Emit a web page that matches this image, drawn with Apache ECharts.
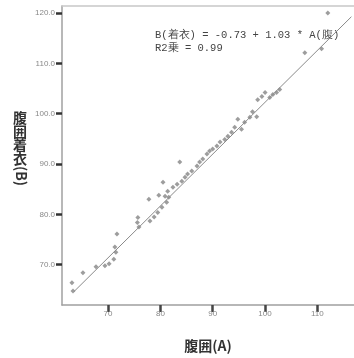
<!DOCTYPE html>
<html>
<head>
<meta charset="utf-8">
<script src="https://cdn.jsdelivr.net/npm/echarts@6/dist/echarts.min.js"></script>
<style>
  html, body { margin: 0; padding: 0; background: #fff; }
  #chart { width: 354px; height: 358px; }
</style>
</head>
<body>
<div id="chart"></div>
<script>
// 腹囲(A) vs 腹囲着衣(B)
const waistA = [63.1, 63.3, 65.2, 67.7, 69.4, 70.2, 71.1, 71.3, 71.5, 71.7,
  75.7, 75.9, 75.6, 77.8, 78.0, 78.8, 79.5, 79.7, 80.3, 81.2, 81.6,
  80.5, 80.9, 81.4, 82.4, 83.2, 83.7, 84.1, 84.7, 85.2, 86.0, 87.0, 87.5,
  88.1, 88.9, 89.4, 90.0, 90.8, 91.4, 92.3, 92.9, 93.6, 94.2, 94.8, 95.5,
  96.1, 97.1, 97.6, 98.4, 98.6, 99.4, 100.0, 100.9, 101.5, 102.2, 102.8,
  107.6, 110.8, 112.0];
const clothedB = [66.4, 64.8, 68.4, 69.6, 69.8, 70.2, 71.1, 73.5, 72.5, 76.1,
  79.4, 77.5, 78.4, 83.0, 78.7, 79.5, 80.4, 83.8, 81.4, 82.4, 83.4,
  86.4, 83.6, 84.6, 85.4, 86.0, 90.4, 86.6, 87.4, 88.0, 88.6, 89.6, 90.4,
  91.0, 92.0, 92.6, 93.0, 93.6, 94.4, 94.9, 95.5, 96.3, 97.3, 98.9, 96.9,
  98.3, 99.3, 100.4, 99.4, 102.8, 103.4, 104.2, 103.2, 103.8, 104.2, 104.8,
  112.1, 112.9, 120.0];
const xTicks = [70, 80, 90, 100, 110];
const yTicks = [70, 80, 90, 100, 110, 120];
const intercept = -0.73;
const slope = 1.03;
const fitRange = [63.5, 116.5];

const points = waistA.map((a, i) => [a, clothedB[i]]);
const fitLine = fitRange.map(a => [a, intercept + slope * a]);

const chart = echarts.init(document.getElementById('chart'));
const axisGray = '#a0a0a0';
chart.setOption({
  backgroundColor: '#ffffff',
  animation: false,
  grid: { left: 62, top: 6, right: 0, bottom: 52 },
  xAxis: [{
    type: 'value',
    min: 61.2,
    max: 117,
    splitNumber: 5,
    name: '腹囲(A)',
    nameLocation: 'middle',
    nameGap: 34,
    nameTextStyle: { fontSize: 14, fontWeight: 'bold', color: '#333', fontFamily: 'Noto Sans CJK JP' },
    axisLine: { lineStyle: { color: axisGray, width: 1.5 } },
    axisTick: { show: true, length: 7, lineStyle: { color: '#444', width: 2.5 } },
    axisLabel: { fontSize: 8, color: '#888', margin: 5, showMinLabel: false, showMaxLabel: false,
      formatter: v => (xTicks.includes(v) ? String(v) : '') },
    splitLine: { show: false }
  }, {
    type: 'value',
    position: 'top',
    min: 61.2,
    max: 117,
    axisLine: { show: true, lineStyle: { color: '#c8c8c8', width: 1.5 } },
    axisTick: { show: false },
    axisLabel: { show: false },
    splitLine: { show: false }
  }],
  yAxis: {
    type: 'value',
    min: 62,
    max: 121.4,
    splitNumber: 6,
    axisLine: { show: true, lineStyle: { color: axisGray, width: 1.5 } },
    axisTick: { show: true, length: 6, lineStyle: { color: '#333', width: 2.5 } },
    axisLabel: { fontSize: 8, color: '#888', margin: 7, showMinLabel: false, showMaxLabel: false,
      formatter: v => (yTicks.includes(v) ? v.toFixed(1) : '') },
    splitLine: { show: false }
  },
  graphic: [
    { type: 'text', left: 13, top: 111,
      style: { text: '腹\n囲\n着\n衣', font: 'bold 14px "Noto Sans CJK JP"', fill: '#333', lineHeight: 13.5 } },
    { type: 'text', x: 28, y: 166, rotation: -Math.PI / 2,
      style: { text: '(B)', font: 'bold 14px "Noto Sans CJK JP"', fill: '#333' } },
    { type: 'text', left: 155, top: 29,
      style: { text: 'B(着衣) = -0.73 + 1.03 * A(腹)\nR2乗 = 0.99', font: '10.5px "Liberation Mono"', fill: '#444', lineHeight: 12.5 } }
  ],
  series: [{
    type: 'scatter',
    xAxisIndex: 0,
    data: points,
    symbol: 'diamond',
    symbolSize: 5,
    itemStyle: { color: '#858585' }
  }, {
    type: 'line',
    xAxisIndex: 0,
    data: fitLine,
    showSymbol: false,
    lineStyle: { color: '#8a8a8a', width: 1 }
  }]
});
</script>
</body>
</html>
